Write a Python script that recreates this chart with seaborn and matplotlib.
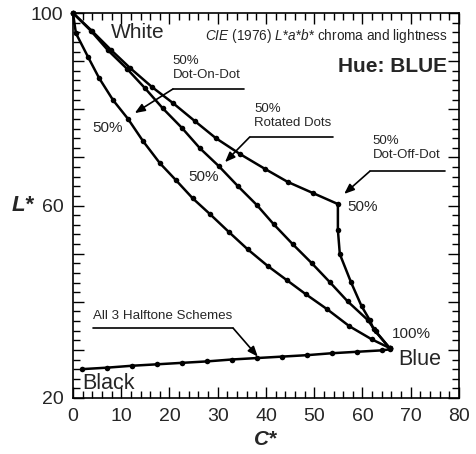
import matplotlib
matplotlib.use("Agg")
import matplotlib.pyplot as plt
import seaborn as sns
import numpy as np
from matplotlib.ticker import MultipleLocator, FixedLocator

# ---- data ----
C_on = [0, 0.6, 3.1, 5.4, 8.3, 11.4, 14.5, 18.0, 21.3, 24.8, 28.4, 32.3, 36.2,
        40.4, 44.3, 48.2, 52.6, 57.3, 61.9, 65.6]
L_on = [100, 95.8, 90.9, 86.5, 81.9, 78.0, 73.4, 68.8, 65.3, 61.5, 58.2, 54.5, 50.9,
        47.4, 44.5, 41.6, 38.5, 34.9, 32.2, 30.4]

C_rot = [0, 3.7, 7.2, 11.2, 14.9, 18.6, 22.6, 26.3, 30.2, 34.2, 38.1, 41.6, 45.5,
         49.5, 53.2, 56.9, 61.1, 62.7, 65.6]
L_rot = [100, 96.3, 92.3, 88.4, 84.4, 80.2, 76.1, 71.9, 68.2, 64.0, 60.1, 56.1, 52.0,
         48.0, 44.1, 40.1, 36.2, 33.9, 30.4]

C_off = [0, 3.9, 7.9, 11.8, 16.4, 20.7, 25.3, 29.6, 34.6, 39.8, 44.5, 49.7, 54.9,
         54.9, 55.3, 57.6, 59.8, 61.5, 62.3, 65.6]
L_off = [100, 96.3, 92.3, 88.6, 84.6, 81.3, 77.5, 74.0, 70.7, 67.6, 64.9, 62.6, 60.3,
         54.9, 49.9, 44.1, 39.1, 36.2, 34.3, 30.4]

C_blk = [1.9, 7.0, 12.2, 17.4, 22.5, 27.7, 32.9, 38.1, 43.3, 48.5, 53.6, 58.8, 64.0, 65.6]
L_blk = [26.0, 26.3, 26.7, 27.0, 27.3, 27.6, 28.0, 28.3, 28.6, 28.9, 29.3, 29.6, 29.9, 30.1]

x_ticks = [0, 10, 20, 30, 40, 50, 60, 70, 80]
y_ticks = [20, 60, 100]

sns.set_theme(style="white")
plt.rcParams['font.family'] = ['Liberation Sans', 'DejaVu Sans']
plt.rcParams['mathtext.fontset'] = 'custom'
plt.rcParams['mathtext.rm'] = 'Liberation Sans'
plt.rcParams['mathtext.it'] = 'Liberation Sans:italic'

fig = plt.figure(figsize=(4.77, 4.54), dpi=100)
ax = fig.add_axes([73/477, 1-398/454, (459-73)/477, (398-13)/454])

line_kw = dict(sort=False, estimator=None, color='black', linewidth=1.8,
               marker='o', markersize=4.0, markeredgewidth=0, ax=ax, legend=False,
               clip_on=False)
for cx, ly in [(C_on, L_on), (C_rot, L_rot), (C_off, L_off), (C_blk, L_blk)]:
    sns.lineplot(x=cx, y=ly, **line_kw)

ax.set_xlim(0, 80)
ax.set_ylim(20, 100)
ax.xaxis.set_major_locator(FixedLocator(x_ticks))
ax.xaxis.set_minor_locator(MultipleLocator(2))
ax.yaxis.set_major_locator(MultipleLocator(10))
ax.yaxis.set_minor_locator(MultipleLocator(2))
ax.set_yticks(np.arange(20, 101, 10))
ax.set_yticklabels([str(v) if v in y_ticks else '' for v in range(20, 101, 10)])
ax.tick_params(which='both', direction='in', top=True, right=True, bottom=True, left=True,
               color='black', width=1.0)
ax.tick_params(which='major', length=8, labelsize=14, pad=7)
ax.tick_params(which='minor', length=5)
for s in ax.spines.values():
    s.set_color('black')
    s.set_linewidth(1.2)

ax.set_xlabel('C*', fontsize=15, fontstyle='italic', fontweight='bold', labelpad=4)
ax.set_ylabel('L*', fontsize=16, fontstyle='italic', fontweight='bold', rotation=0,
              ha='center', va='center')
ax.yaxis.set_label_coords(-0.13, 0.5)

# ---- annotations ----
ax.text(13.4, 95.9, 'White', fontsize=15, ha='center', va='center')
ax.text(77.7, 95.3, r'$\mathit{CIE}$ (1976) $\mathit{L{*}a{*}b{*}}$ chroma and lightness',
        fontsize=9.8, ha='right', va='center')
ax.text(77.6, 88.9, 'Hue: BLUE', fontsize=15, fontweight='bold', ha='right', va='center')

arrow_kw = dict(arrowstyle='-|>,head_length=0.5,head_width=0.2', color='black', lw=1.2,
                shrinkA=0, shrinkB=0)

# Dot-On-Dot
ax.text(20.7, 88.6, '50%\nDot-On-Dot', fontsize=9.5, ha='left', va='center', linespacing=1.25)
ax.plot([20.7, 35.5], [84.2, 84.2], color='black', lw=1.2)
ax.annotate('', xy=(12.8, 79.2), xytext=(20.7, 84.2), arrowprops=arrow_kw)
ax.text(7.2, 76.1, '50%', fontsize=11, ha='center', va='center')

# Rotated Dots
ax.text(37.6, 78.6, '50%\nRotated Dots', fontsize=9.5, ha='left', va='center', linespacing=1.25)
ax.plot([36.6, 53.8], [74.2, 74.2], color='black', lw=1.2)
ax.annotate('', xy=(31.5, 69.0), xytext=(36.6, 74.2), arrowprops=arrow_kw)
ax.text(27.0, 65.9, '50%', fontsize=11, ha='center', va='center')

# Dot-Off-Dot
ax.text(62.1, 71.9, '50%\nDot-Off-Dot', fontsize=9.5, ha='left', va='center', linespacing=1.25)
ax.plot([61.5, 77.0], [67.1, 67.1], color='black', lw=1.2)
ax.annotate('', xy=(56.2, 62.4), xytext=(61.5, 67.1), arrowprops=arrow_kw)
ax.text(60.0, 59.6, '50%', fontsize=11, ha='center', va='center')

# endpoints
ax.text(70.2, 33.4, '100%', fontsize=11, ha='center', va='center')
ax.text(71.8, 27.9, 'Blue', fontsize=15.5, ha='center', va='center')
ax.text(2.0, 23.1, 'Black', fontsize=15.5, ha='left', va='center')

# All 3 halftone schemes
ax.text(4.1, 37.0, 'All 3 Halftone Schemes', fontsize=9.6, ha='left', va='center')
ax.plot([4.1, 33.2], [34.5, 34.5], color='black', lw=1.2)
ax.annotate('', xy=(38.3, 28.6), xytext=(33.2, 34.5), arrowprops=arrow_kw)

fig.savefig('out.png', dpi=100, facecolor='white')
